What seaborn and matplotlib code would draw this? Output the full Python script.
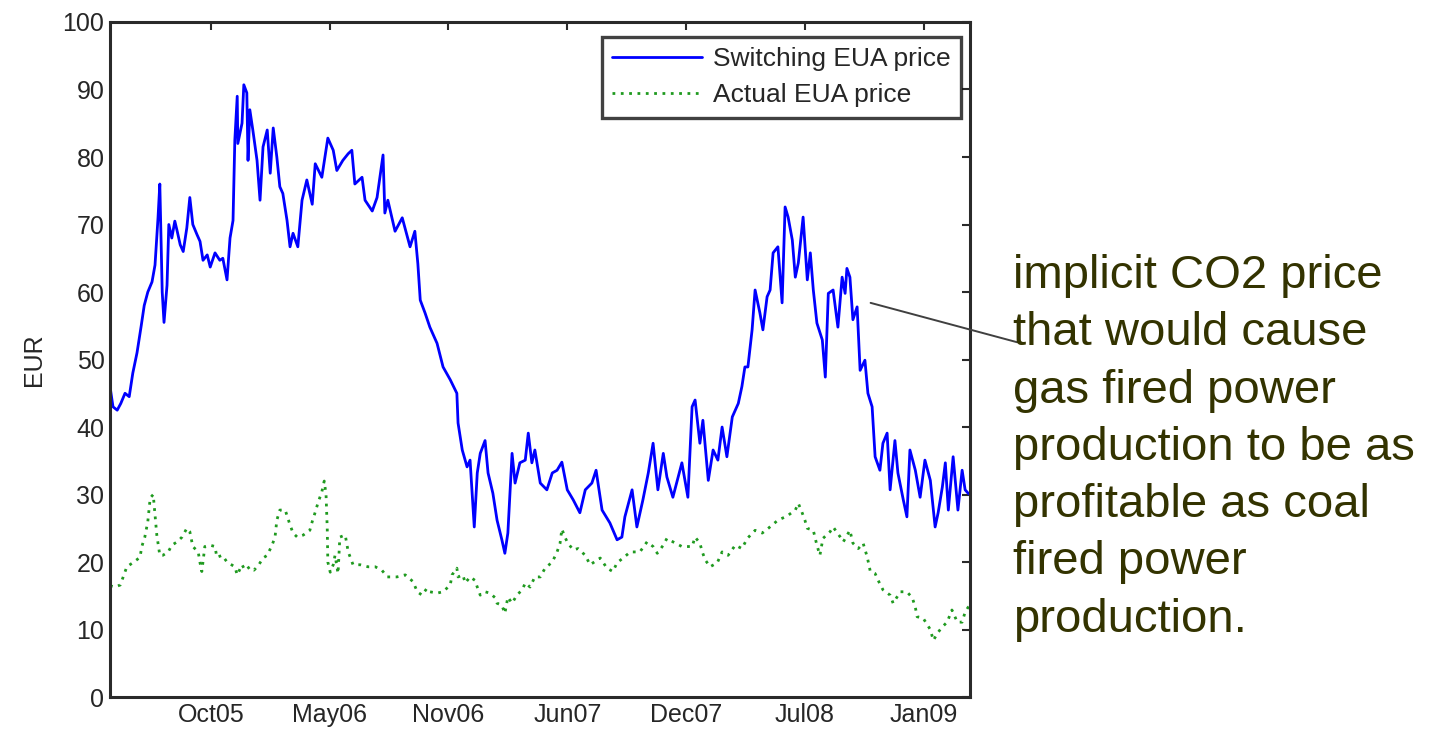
import matplotlib
matplotlib.use("Agg")
import matplotlib.pyplot as plt
import numpy as np
import pandas as pd
import seaborn as sns

# Day offsets counted from the first observation (15 Apr 2005)
start_date = "2005-04-15"

switch_days = [0, 5, 12, 18, 25, 32, 38, 45, 52, 57, 63, 70, 75, 80, 83, 87, 90, 95, 98, 103,
               108, 112, 117, 122, 128, 133, 138, 145, 150, 155, 162, 167, 175, 183, 188, 195,
               200, 205, 208, 212, 213, 220, 223, 228, 230, 233, 238, 245, 250, 255, 262, 267,
               272, 278, 283, 288, 295, 300, 305, 313, 320, 328, 337, 342, 353, 363, 372, 378,
               388, 397, 403, 408, 420, 425, 437, 445, 455, 458, 463, 475, 487, 500, 508, 513,
               517, 525, 533, 545, 555, 567, 578, 580, 587, 595, 600, 607, 612, 617, 625, 630,
               638, 645, 653, 658, 663, 670, 675, 683, 692, 697, 703, 708, 717, 728, 737, 745,
               753, 762, 772, 783, 792, 803, 810, 820, 833, 845, 853, 858, 870, 878, 888, 897,
               905, 913, 922, 928, 938, 953, 963, 970, 975, 983, 988, 997, 1005, 1013, 1020,
               1028, 1037, 1047, 1053, 1058, 1063, 1070, 1075, 1083, 1088, 1095, 1100, 1105,
               1113, 1120, 1125, 1130, 1137, 1142, 1147, 1155, 1162, 1167, 1172, 1178, 1187,
               1192, 1197, 1205, 1213, 1220, 1225, 1228, 1233, 1238, 1245, 1250, 1258, 1263,
               1270, 1275, 1283, 1288, 1295, 1300, 1308, 1313, 1322, 1328, 1333, 1342, 1350,
               1358, 1367, 1375, 1380, 1387, 1392, 1397, 1405, 1413, 1420, 1425, 1430, 1433]

switch_price = [46, 43, 42.5, 43.5, 45, 44.5, 48, 51, 55, 58, 60, 61.5, 64, 71, 76, 60, 55.5, 61,
                70, 68, 70.5, 69, 67, 66, 69.5, 74, 70, 68.5, 67.5, 64.7, 65.5, 63.7, 65.8, 64.7,
                65, 61.8, 68, 70.6, 82.5, 89, 82, 85, 90.7, 89.5, 79.5, 87, 84, 79.5, 73.6, 81.5,
                84, 77.6, 84.3, 80, 75.6, 74.6, 70.6, 66.7, 68.7, 66.7, 73.6, 76.6, 73, 79, 77,
                82.8, 81, 78, 79.5, 80.5, 81, 76, 77, 73.6, 72, 74, 80.3, 71.7, 73.6, 69, 71,
                66.7, 69, 64.2, 58.8, 56.9, 54.8, 52.4, 48.9, 47, 45, 40.6, 36.6, 34.1, 35.1,
                25.2, 33.2, 36.1, 38, 33.2, 30.2, 26.2, 23.3, 21.3, 24.3, 36.1, 31.7, 34.7,
                35.1, 39.1, 34.7, 36.6, 31.7, 30.7, 33.2, 33.6, 34.8, 30.7, 29.2, 27.3, 30.7,
                31.7, 33.6, 27.7, 25.8, 23.3, 23.7, 26.7, 30.7, 25.2, 29.2, 33.2, 37.6, 30.7,
                36.1, 32.6, 29.6, 34.7, 29.6, 43, 44, 37.6, 41, 32.1, 36.6, 35.1, 40, 35.6,
                41.5, 43.5, 46, 48.9, 48.9, 54.4, 60.3, 56.9, 54.4, 59.3, 60.3, 65.8, 66.7,
                58.4, 72.6, 71.1, 67.7, 62.2, 64.3, 71.1, 61.8, 65.8, 60.3, 55.4, 52.9, 47.4,
                59.8, 60.3, 54.8, 62.2, 59.8, 63.5, 62.2, 55.9, 57.8, 48.4, 49.9, 45, 43, 35.6,
                33.6, 37.6, 39.1, 30.7, 38, 33.2, 29.2, 26.7, 36.6, 33.6, 29.6, 35.1, 32.1,
                25.2, 27.3, 31.1, 34.7, 27.7, 35.6, 27.7, 33.6, 30.7, 30.2, 30]

actual_days = [0, 8, 17, 22, 28, 38, 50, 53, 58, 63, 67, 72, 75, 78, 83, 88, 97, 103, 112, 120,
               128, 133, 138, 147, 150, 153, 158, 167, 175, 178, 187, 195, 208, 212, 220, 225,
               233, 240, 248, 255, 262, 270, 275, 278, 283, 292, 300, 305, 312, 322, 333, 337,
               342, 347, 353, 357, 360, 362, 363, 367, 372, 375, 380, 383, 392, 397, 405, 417,
               430, 442, 453, 462, 478, 492, 505, 512, 520, 528, 533, 545, 555, 567, 570, 578,
               580, 588, 592, 600, 608, 612, 617, 625, 633, 642, 645, 653, 658, 663, 670, 678,
               687, 692, 700, 708, 717, 725, 737, 745, 750, 753, 758, 763, 772, 780, 792, 800,
               817, 828, 838, 845, 855, 867, 883, 895, 905, 912, 922, 928, 938, 953, 970, 975,
               983, 987, 992, 1000, 1012, 1020, 1030, 1042, 1053, 1062, 1075, 1087, 1097,
               1113, 1128, 1142, 1147, 1153, 1158, 1162, 1172, 1178, 1183, 1188, 1200, 1205,
               1217, 1222, 1233, 1238, 1247, 1255, 1262, 1267, 1275, 1280, 1288, 1300, 1305,
               1317, 1328, 1337, 1342, 1345, 1355, 1367, 1372, 1380, 1387, 1395, 1403, 1412,
               1420, 1425, 1430, 1433]

actual_price = [16.5, 16.3, 16.6, 17.8, 19.3, 19.9, 20.7, 22.3, 23.7, 26, 29.5, 30, 27, 24, 21,
                21, 21.5, 22.5, 23, 23.7, 25, 24.5, 22.3, 21.5, 19.9, 18.6, 22.3, 22.5, 22.3,
                20.7, 21, 20, 19.3, 18.1, 19.6, 18.8, 19.3, 18.8, 19.6, 20.6, 21, 22.5, 23.7,
                26.2, 27.7, 27.7, 25.5, 24.3, 23.7, 24, 24.7, 26, 27.4, 28.9, 30.4, 32, 30, 25,
                20, 18.5, 19.6, 21, 18.3, 23.7, 24, 21.5, 19.6, 19.6, 19.3, 19.3, 18.8, 17.8,
                17.8, 18.1, 17.1, 15.6, 15.1, 16.1, 15.6, 15.4, 15.6, 16.6, 18.1, 19.1, 17.8,
                18.1, 16.9, 17.8, 17.3, 16.3, 15.1, 15.6, 15.4, 14.7, 13.9, 13.6, 12.4, 14.8,
                13.9, 15.1, 15.9, 16.9, 16.3, 17.8, 17.8, 19.1, 20, 21.5, 22.8, 24.9, 23.7,
                22.8, 21.8, 22, 21, 19.6, 20.6, 19.1, 18.6, 19.9, 20.6, 21.5, 21.5, 23, 22.3,
                21.3, 22.5, 23.5, 23, 22.3, 22.3, 23.7, 22.8, 21.5, 20.3, 19.3, 19.9, 21.5, 21,
                22.5, 22, 23.5, 24.7, 24.3, 25, 26.2, 26.8, 27.7, 28.7, 27.4, 26.2, 25, 24.7,
                22.5, 21, 23.5, 24.5, 25.2, 23.7, 23, 24.7, 22.8, 22, 22.8, 20.7, 18.6, 18.3,
                17.3, 15.9, 15.1, 13.9, 15.6, 15.6, 14.7, 13.3, 11.9, 11.7, 10, 8.4, 9.6, 10.4,
                11.1, 12.9, 11.1, 11.1, 12.6, 13.3, 13.5]

tick_days = [168, 366, 564, 762, 960, 1158, 1356]
tick_labels = ["Oct05", "May06", "Nov06", "Jun07", "Dec07", "Jul08", "Jan09"]
y_ticks = [0, 10, 20, 30, 40, 50, 60, 70, 80, 90, 100]

series_names = ["Switching EUA price", "Actual EUA price"]
note_text = ("implicit CO2 price\nthat would cause\ngas fired power\n"
             "production to be as\nprofitable as coal\nfired power\nproduction.")

t0 = pd.Timestamp(start_date)
switch_df = pd.DataFrame({"date": t0 + pd.to_timedelta(switch_days, unit="D"),
                          "price": switch_price})
actual_df = pd.DataFrame({"date": t0 + pd.to_timedelta(actual_days, unit="D"),
                          "price": actual_price})

sns.set_style("white")
plt.rcParams["font.family"] = ["Liberation Sans", "DejaVu Sans"]

fig = plt.figure(figsize=(14.38, 7.33), dpi=100)
ax = fig.add_axes([0.0765, 0.049, 0.598, 0.921])

sns.lineplot(data=switch_df, x="date", y="price", ax=ax, color="#0000ff",
             linewidth=2.0, label=series_names[0], estimator=None)
sns.lineplot(data=actual_df, x="date", y="price", ax=ax, color="#1f9a1f",
             linewidth=2.0, linestyle=(0, (1, 2)), label=series_names[1], estimator=None)

ax.set_xlim(t0, t0 + pd.Timedelta(days=1433))
ax.set_ylim(0, 100)
ax.set_yticks(y_ticks)
ax.set_yticklabels([str(v) for v in y_ticks], fontsize=18)
ax.set_xticks([t0 + pd.Timedelta(days=d) for d in tick_days])
ax.set_xticklabels(tick_labels, fontsize=18)
ax.set_xlabel("")
ax.set_ylabel("EUR", fontsize=18, labelpad=12)

for side, sp in ax.spines.items():
    sp.set_visible(True)
    sp.set_color("#2a2a2a")
    sp.set_linewidth(2.2)
ax.tick_params(direction="in", length=6, width=1.5, color="#2a2a2a",
               top=True, right=True, pad=4)

leg = ax.legend(loc="upper right", bbox_to_anchor=(0.9985, 0.99), fontsize=19,
                frameon=True, fancybox=False, handlelength=3.4, handletextpad=0.4,
                borderpad=0.4, labelspacing=0.45, borderaxespad=0.3)
leg.get_frame().set_edgecolor("#111111")
leg.get_frame().set_linewidth(2.4)

# Callout tying the note to the switching price curve
ax.annotate("", xy=(t0 + pd.Timedelta(days=1263), 58.5),
            xytext=(1020 / 1438, 1 - 343 / 733), textcoords="figure fraction",
            arrowprops=dict(arrowstyle="-", color="#404040", lw=1.4))
fig.text(1013 / 1438, 1 - 254 / 733, note_text, fontsize=34, color="#333300",
         ha="left", va="top", linespacing=1.39)

fig.savefig("out.png", dpi=100, facecolor="white")
